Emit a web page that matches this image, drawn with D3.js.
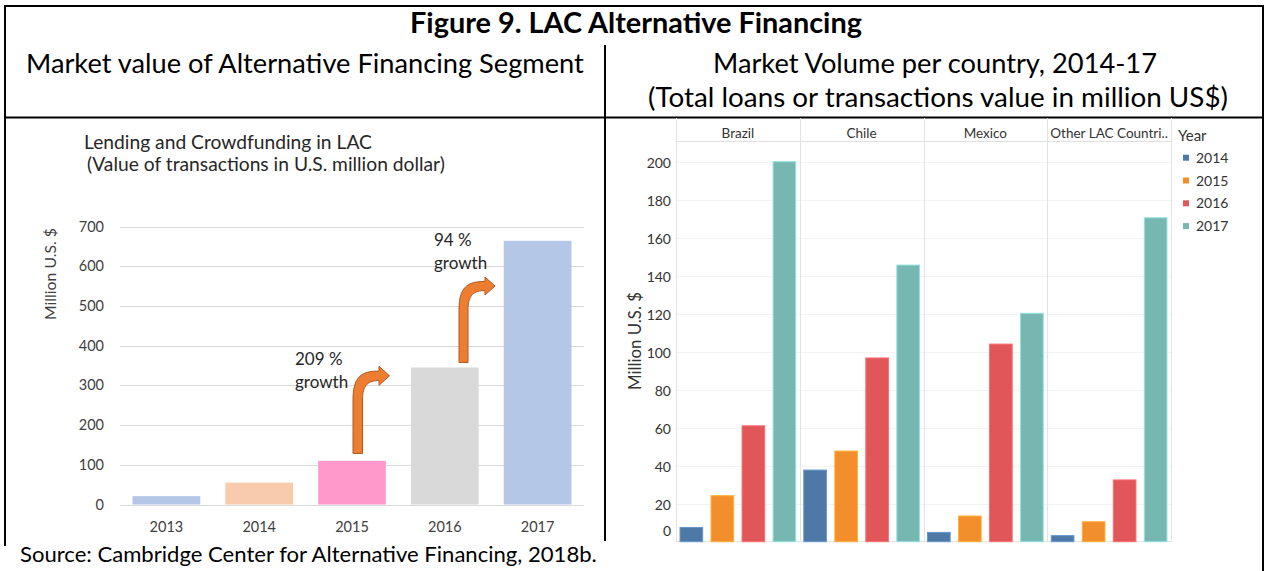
<!DOCTYPE html>
<html>
<head>
<meta charset="utf-8">
<script src="https://cdn.jsdelivr.net/npm/d3@7"></script>
<style>
  html, body { margin: 0; padding: 0; background: #fff; }
  svg { display: block; font-family: Lato, "Open Sans", sans-serif; }
</style>
</head>
<body>
<script>
// ---------------- data ----------------
const leftYears = ["2013", "2014", "2015", "2016", "2017"];
const leftValues = [21, 55, 110, 345, 664];
const leftTicks = [0, 100, 200, 300, 400, 500, 600, 700];

const countries = ["Brazil", "Chile", "Mexico", "Other LAC Countri.."];
const years = ["2014", "2015", "2016", "2017"];
const vol2014 = [7.5, 37.7, 4.9, 3.2];
const vol2015 = [24.2, 47.7, 13.5, 10.5];
const vol2016 = [61, 96.7, 104, 32.5];
const vol2017 = [200, 145.6, 120.2, 170.5];
const rightTicks = [0, 20, 40, 60, 80, 100, 120, 140, 160, 180, 200];

// ---------------- styles ----------------
const leftColors = ["#b4c7e7", "#f8cbad", "#ff99cc", "#d9d9d9", "#b4c7e7"];
const yearColors = ["#4e79a7", "#f28e2b", "#e15759", "#76b7b2"];

const W = 1266, H = 571;
const svg = d3.select("body").append("svg").attr("width", W).attr("height", H);
svg.append("rect").attr("width", W).attr("height", H).attr("fill", "#fff");

function fit(sel, width) {
  const node = sel.node();
  const fs = parseFloat(sel.attr("font-size"));
  const len = node.getComputedTextLength();
  if (len > 0) sel.attr("font-size", (fs * width / len).toFixed(2));
  return sel;
}

// ---------------- table frame ----------------
const frame = svg.append("g").attr("stroke", "#000").attr("stroke-width", 2);
frame.append("line").attr("x1", 4).attr("x2", 1264).attr("y1", 6).attr("y2", 6);
frame.append("line").attr("x1", 5).attr("x2", 5).attr("y1", 5).attr("y2", 546);
frame.append("line").attr("x1", 1263).attr("x2", 1263).attr("y1", 5).attr("y2", 571);
frame.append("line").attr("x1", 605).attr("x2", 605).attr("y1", 45).attr("y2", 541);
frame.append("line").attr("x1", 4).attr("x2", 1264).attr("y1", 117.5).attr("y2", 117.5);

// headings
fit(svg.append("text").attr("x", 636).attr("y", 33).attr("text-anchor", "middle")
  .attr("font-weight", "bold").attr("font-size", 22).attr("fill", "#000")
  .text("Figure 9. LAC Alternative Financing"), 452);
fit(svg.append("text").attr("x", 26).attr("y", 73).attr("font-size", 22).attr("fill", "#000")
  .text("Market value of Alternative Financing Segment"), 558);
fit(svg.append("text").attr("x", 935).attr("y", 73).attr("text-anchor", "middle").attr("font-size", 22).attr("fill", "#000")
  .text("Market Volume per country, 2014-17"), 444);
fit(svg.append("text").attr("x", 938).attr("y", 107).attr("text-anchor", "middle").attr("font-size", 22).attr("fill", "#000")
  .text("(Total loans or transactions value in million US$)"), 580);
fit(svg.append("text").attr("x", 20).attr("y", 562).attr("font-size", 20).attr("fill", "#000")
  .text("Source: Cambridge Center for Alternative Financing, 2018b."), 577);

// ---------------- left chart ----------------
const L = svg.append("g");
const xL = d3.scaleBand().domain(leftYears).range([120, 584]).paddingInner(0.27).paddingOuter(0.135);
const yL = d3.scaleLinear().domain([0, 700]).range([504.5, 226.5]);

const sub2 = fit(L.append("text").attr("x", 87).attr("y", 171).attr("font-size", 15).attr("fill", "#262626")
  .text("(Value of transactions in U.S. million dollar)"), 358);
L.append("text").attr("x", 84).attr("y", 149).attr("font-size", sub2.attr("font-size")).attr("fill", "#262626")
  .text("Lending and Crowdfunding in LAC");

L.append("g").selectAll("line").data(leftTicks).join("line")
  .attr("x1", 120).attr("x2", 584)
  .attr("y1", d => Math.round(yL(d)) + 0.5).attr("y2", d => Math.round(yL(d)) + 0.5)
  .attr("stroke", "#d9d9d9").attr("stroke-width", 1);

const axL = L.append("g").attr("transform", "translate(104,0)")
  .call(d3.axisLeft(yL).tickValues(leftTicks).tickSize(0).tickPadding(0));
axL.select(".domain").remove();
axL.selectAll("text").attr("font-size", 14.5).attr("fill", "#404040").attr("font-family", "Lato");

L.append("g").selectAll("rect").data(leftValues).join("rect")
  .attr("x", (d, i) => xL(leftYears[i]))
  .attr("width", xL.bandwidth())
  .attr("y", d => yL(d))
  .attr("height", d => yL(0) - yL(d))
  .attr("fill", (d, i) => leftColors[i]);

const axLx = L.append("g").attr("transform", "translate(0,522)")
  .call(d3.axisBottom(xL).tickSize(0).tickPadding(0));
axLx.select(".domain").remove();
axLx.selectAll("text").attr("font-size", 14.5).attr("fill", "#404040").attr("font-family", "Lato");

const yt = L.append("text").attr("transform", "translate(56,274) rotate(-90)")
  .attr("text-anchor", "middle").attr("font-size", 14).attr("fill", "#404040")
  .text("Million U.S. $");
fit(yt, 92);

// annotations
function ann(x, y1, y2, t1) {
  L.append("text").attr("x", x).attr("y", y1).attr("font-size", 17).attr("fill", "#262626").text(t1);
  L.append("text").attr("x", x).attr("y", y2).attr("font-size", 17).attr("fill", "#262626").text("growth");
}
ann(295, 365, 388, "209 %");
ann(434, 246, 269, "94 %");

function bentArrow(xl, xr, yb, yc, hw, xBase, xTip, hh) {
  const yTop = yc - hw, yBot = yc + hw;
  const curveStart = yBot + (xBase - xl) * 0.75;
  const p = d3.path();
  p.moveTo(xl, yb);
  p.lineTo(xl, curveStart);
  p.bezierCurveTo(xl, yTop + 6, xl + 8, yTop, xBase, yTop);
  p.lineTo(xBase, yc - hh);
  p.lineTo(xTip, yc);
  p.lineTo(xBase, yc + hh);
  p.lineTo(xBase, yBot);
  p.bezierCurveTo(xr + 6, yBot, xr, yBot + 4, xr, curveStart);
  p.lineTo(xr, yb);
  p.closePath();
  L.append("path").attr("d", p.toString())
    .attr("fill", "#ed7d31").attr("stroke", "#ae5a21").attr("stroke-width", 1);
}
bentArrow(353, 362.5, 453.5, 375.8, 4.75, 379, 389.5, 9.5);
bentArrow(459, 468, 362.5, 286, 4.6, 485, 495, 9);

// ---------------- right chart ----------------
const R = svg.append("g");
const x0 = d3.scaleBand().domain(countries).range([676, 1171]);
const x1 = d3.scaleBand().domain(years).range([0, x0.bandwidth()]).paddingInner(0.27).paddingOuter(0.13);
const yR = d3.scaleLinear().domain([0, 200]).range([541.7, 161.7]);
const series = [vol2014, vol2015, vol2016, vol2017];

// gridlines
R.append("g").selectAll("line").data(rightTicks.filter(d => d > 0)).join("line")
  .attr("x1", 676).attr("x2", 1171)
  .attr("y1", d => Math.round(yR(d)) + 0.5).attr("y2", d => Math.round(yR(d)) + 0.5)
  .attr("stroke", "#f3f3f3").attr("stroke-width", 1);

// panel dividers
const edges = countries.map(c => x0(c)).concat([1171]);
R.append("g").selectAll("line").data(edges).join("line")
  .attr("x1", d => Math.round(d) + 0.5).attr("x2", d => Math.round(d) + 0.5)
  .attr("y1", 118).attr("y2", 542)
  .attr("stroke", "#e3e3e3").attr("stroke-width", 1);
R.append("line").attr("x1", 676).attr("x2", 1171).attr("y1", 141.5).attr("y2", 141.5)
  .attr("stroke", "#e0e0e0");
R.append("line").attr("x1", 676).attr("x2", 1171).attr("y1", 541.5).attr("y2", 541.5)
  .attr("stroke", "#e3e3e3");

// headers
R.append("g").selectAll("text").data(countries).join("text")
  .attr("x", d => x0(d) + x0.bandwidth() / 2)
  .attr("y", 137.5).attr("text-anchor", "middle")
  .attr("font-size", 13.5).attr("fill", "#333")
  .text(d => d);

// bars
const groups = R.append("g").selectAll("g").data(countries).join("g")
  .attr("transform", d => `translate(${x0(d)},0)`);
groups.selectAll("rect").data((c, ci) => years.map((y, yi) => ({ y, v: series[yi][ci], yi })))
  .join("rect")
  .attr("x", d => x1(d.y))
  .attr("width", x1.bandwidth())
  .attr("y", d => yR(d.v))
  .attr("height", d => yR(0) - yR(d.v))
  .attr("fill", d => yearColors[d.yi])
  .attr("stroke", d => d3.color(yearColors[d.yi]).brighter(0.6))
  .attr("stroke-width", 1);

// y axis
const axR = R.append("g").attr("transform", "translate(671,0)")
  .call(d3.axisLeft(yR).tickValues(rightTicks).tickSize(0).tickPadding(0));
axR.select(".domain").remove();
axR.selectAll("text").attr("font-size", 14).attr("fill", "#333").attr("font-family", "Lato")
  .attr("dy", d => d === 0 ? "-0.45em" : "0.4em");

fit(R.append("text").attr("transform", "translate(641,341) rotate(-90)")
  .attr("text-anchor", "middle").attr("font-size", 14).attr("fill", "#333")
  .text("Million U.S. $"), 98);

// legend
R.append("text").attr("x", 1178).attr("y", 141).attr("font-size", 15).attr("fill", "#333").text("Year");
const lg = R.append("g").selectAll("g").data(years).join("g")
  .attr("transform", (d, i) => `translate(1183,${157.7 + i * 22.8})`);
lg.append("rect").attr("x", 0).attr("y", -3).attr("width", 6).attr("height", 6)
  .attr("fill", (d, i) => yearColors[i]);
lg.append("text").attr("x", 13).attr("y", 0).attr("dy", "0.36em")
  .attr("font-size", 14).attr("fill", "#333").text(d => d);
</script>
</body>
</html>
